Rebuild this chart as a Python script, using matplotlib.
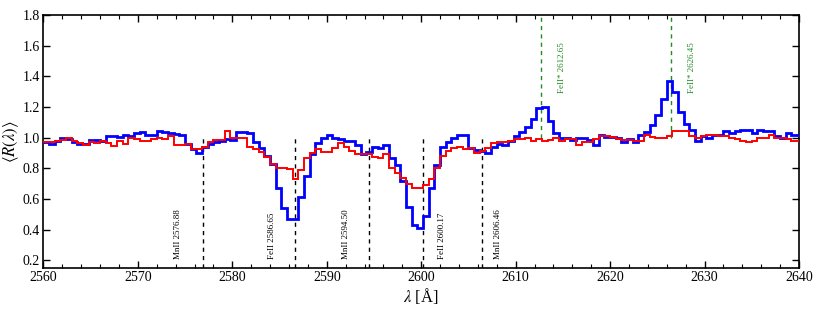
import numpy as np
import matplotlib
matplotlib.use("Agg")
import matplotlib.pyplot as plt

plt.rcParams["font.family"] = ["Liberation Serif", "DejaVu Serif"]
plt.rcParams["mathtext.fontset"] = "stix"

# binned composite spectra (0.6 A bins starting at 2560 A)
wave_start = 2560.0
bin_width = 0.6

blue_flux = [
    0.97, 0.96, 0.98, 1.00, 0.99, 0.97, 0.96, 0.96, 0.985, 0.985,
    0.98, 1.01, 1.01, 1.005, 1.02, 1.01, 1.03, 1.035, 1.02, 1.02,
    1.04, 1.035, 1.03, 1.025, 1.02, 0.96, 0.925, 0.90, 0.94, 0.96,
    0.97, 0.98, 0.99, 0.985, 1.035, 1.035, 1.03, 0.97, 0.93, 0.88,
    0.83, 0.67, 0.54, 0.47, 0.47, 0.61, 0.75, 0.89, 0.965, 1.00,
    1.02, 1.00, 0.99, 0.975, 0.98, 0.955, 0.89, 0.905, 0.94, 0.935,
    0.955, 0.87, 0.82, 0.72, 0.55, 0.43, 0.41, 0.49, 0.67, 0.82,
    0.94, 0.97, 1.00, 1.015, 1.015, 0.93, 0.92, 0.91, 0.90, 0.94,
    0.96, 0.955, 0.98, 1.01, 1.035, 1.07, 1.12, 1.19, 1.20, 1.11,
    1.03, 1.00, 0.995, 0.985, 0.995, 1.00, 0.985, 0.955, 1.015, 1.005,
    1.005, 0.995, 0.97, 0.99, 0.97, 1.015, 1.035, 1.08, 1.15, 1.25,
    1.37, 1.30, 1.17, 1.09, 1.05, 0.98, 1.01, 1.00, 1.02, 1.02,
    1.04, 1.03, 1.04, 1.05, 1.05, 1.03, 1.05, 1.04, 1.04, 1.01,
    1.00, 1.03, 1.02, 1.02,
]
red_flux = [
    0.97, 0.97, 0.98, 0.985, 0.995, 0.975, 0.965, 0.955, 0.97, 0.965,
    0.975, 0.965, 0.945, 0.975, 0.96, 0.995, 0.99, 0.98, 0.98, 0.99,
    0.995, 0.99, 1.01, 0.955, 0.955, 0.96, 0.925, 0.925, 0.94, 0.97,
    0.985, 0.985, 1.04, 1.00, 1.00, 1.00, 0.94, 0.925, 0.905, 0.875,
    0.83, 0.80, 0.80, 0.795, 0.73, 0.79, 0.865, 0.90, 0.925, 0.905,
    0.905, 0.93, 0.965, 0.94, 0.91, 0.895, 0.89, 0.89, 0.875, 0.865,
    0.89, 0.80, 0.77, 0.735, 0.70, 0.67, 0.67, 0.69, 0.73, 0.80,
    0.88, 0.91, 0.93, 0.94, 0.925, 0.93, 0.90, 0.91, 0.93, 0.965,
    0.97, 0.97, 0.98, 0.99, 0.99, 1.00, 0.98, 0.99, 0.98, 0.985,
    1.00, 0.98, 0.99, 0.99, 0.955, 0.97, 0.97, 0.99, 1.008, 1.01,
    1.005, 0.99, 0.985, 0.985, 0.98, 0.98, 1.02, 1.005, 0.997, 1.00,
    1.01, 1.04, 1.045, 1.04, 1.01, 1.00, 1.01, 1.02, 1.02, 1.01,
    1.01, 1.00, 0.99, 0.98, 0.97, 0.98, 1.00, 1.00, 1.02, 1.00,
    1.00, 0.99, 0.98, 0.98,
]

abs_lines = [2576.88, 2586.65, 2594.50, 2600.17, 2606.46]
abs_labels = ["MnII 2576.88", "FeII 2586.65", "MnII 2594.50",
              "FeII 2600.17", "MnII 2606.46"]
abs_offsets = [-2.6, -2.45, -2.5, 2.0, 1.7]
em_lines = [2612.65, 2626.45]
em_labels = ["FeII* 2612.65", "FeII* 2626.45"]

edges = wave_start + bin_width * np.arange(len(blue_flux) + 1)

fig = plt.figure(figsize=(8.3, 3.09), dpi=100)
ax = fig.add_axes([0.0524, 0.133, 0.9103, 0.8185])

ax.stairs(blue_flux, edges, baseline=None, color="blue", lw=2.0, zorder=3)
ax.stairs(red_flux, edges, baseline=None, color="red", lw=1.4, zorder=4)

for w, lab, off in zip(abs_lines, abs_labels, abs_offsets):
    ax.plot([w, w], [0.15, 1.0], color="black", ls=(0, (3, 3)), lw=1.0, zorder=2)
    ax.text(w + off, 0.21, lab, rotation=90, ha="center", va="bottom",
            fontsize=6.5, color="black")

for w, lab in zip(em_lines, em_labels):
    ax.plot([w, w], [1.0, 1.8], color="forestgreen", ls=(0, (3, 3)), lw=1.0, zorder=2)
    ax.text(w + 2.2, 1.62, lab, rotation=90, ha="center", va="top",
            fontsize=6.5, color="forestgreen")

ax.set_xlim(2560, 2640)
ax.set_ylim(0.15, 1.8)
ax.set_xticks(np.arange(2560, 2641, 10))
ax.set_xticks(np.arange(2560, 2641, 2), minor=True)
ax.set_yticks([0.2, 0.4, 0.6, 0.8, 1.0, 1.2, 1.4, 1.6, 1.8])
ax.tick_params(which="both", direction="in", top=True, right=True, labelsize=10)
ax.tick_params(which="major", length=5, width=1, pad=2.5)
ax.tick_params(which="minor", length=3, width=0.8)
for sp in ax.spines.values():
    sp.set_linewidth(1.2)

ax.set_xlabel(r"$\lambda$ [Å]", fontsize=12, labelpad=1)
ax.set_ylabel(r"$\langle R(\lambda)\rangle$", fontsize=12, labelpad=1)

fig.savefig("out.png", dpi=100)
